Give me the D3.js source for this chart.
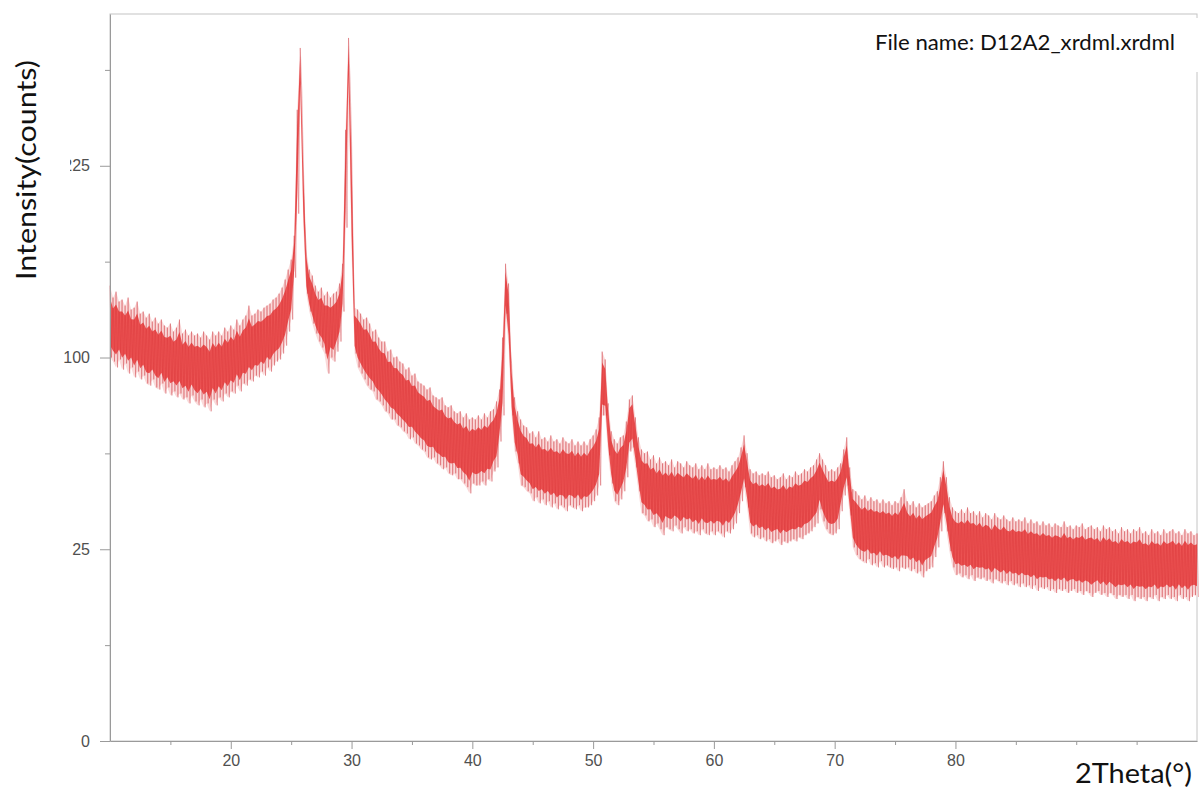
<!DOCTYPE html>
<html>
<head>
<meta charset="utf-8">
<script src="https://cdn.jsdelivr.net/npm/d3@7"></script>
<style>
  body { margin: 0; background: #fff; }
</style>
</head>
<body>
<div id="chart"></div>
<script>
/* XRD scan of sample D12A2, intensity on a square-root axis */

// scan grid: 10 to 100 deg 2theta, one reading every 0.25 deg
const scanStart = 10;
const scanStep = 0.25;

// top edge of the noisy trace at each step (counts)
const upperCounts = [
  141, 133.7, 137.3, 131.3, 132.5, 128.9, 133.7, 126.6, 127.7, 131.3,
  124.2, 125.4, 121.9, 124.2, 119.6, 121.9, 118.5, 120.8, 117.4, 116.2,
  118.5, 114.0, 116.2, 120.8, 112.9, 115.1, 111.8, 114.0, 111.8, 112.9,
  110.7, 114.0, 111.8, 109.6, 114.0, 111.8, 114.0, 111.8, 116.2, 114.0,
  117.4, 115.1, 120.8, 117.4, 120.8, 123.1, 128.9, 123.1, 124.2, 126.6,
  125.4, 127.7, 128.9, 130.1, 132.5, 133.7, 136.1, 139.8, 144.8, 151.1,
  // 25 - 30.5
  157.6, 173.6, 270.9, 326.6, 229.7, 164.2, 151.1, 147.3,
  141.0, 137.3, 139.8, 134.9, 137.3, 133.7, 136.1, 137.3,
  142.3, 154.9, 254.0, 336.1, 244.1, 127.7, 126.6,
  // 30.75 - 42
  124.2, 120.8, 121.9, 118.5, 114.0, 115.1, 110.7, 108.5, 108.5, 103.1,
  104.2, 100.0, 100.5, 97.9, 96.9, 93.8, 94.9, 90.8, 91.8, 87.9,
  86.9, 85.9, 84.0, 85.0, 81.2, 80.3, 79.3, 80.3, 76.6, 75.7,
  76.6, 73.9, 73.0, 73.9, 71.2, 73.0, 70.3, 71.2, 70.3, 72.1,
  70.3, 73.0, 71.2, 73.9, 74.8, 78.4,
  // 42.25 - 44
  84.0, 110.7, 154.9, 142.3, 96.9, 80.3, 73.9, 70.3,
  // 44.25 - 50.25
  67.7, 66.9, 64.3, 65.2, 62.7, 65.2, 61.9, 62.7, 61.0, 63.5,
  61.0, 61.9, 60.2, 62.7, 61.0, 60.2, 61.9, 59.4, 61.0, 59.4,
  61.0, 59.4, 61.9, 63.5, 66.0,
  // 50.5 - 53.75
  71.2, 103.1, 99.0, 77.5, 65.2, 61.9, 60.2, 62.7, 63.5, 69.4, 79.3, 81.2, 71.2, 62.7,
  // 54 - 61.75
  57.8, 56.3, 57.0, 53.9, 55.5, 52.4, 54.7, 52.4, 53.2, 51.7,
  53.9, 50.9, 53.2, 52.4, 50.9, 53.2, 51.7, 50.9, 52.4, 50.2,
  51.7, 50.2, 52.4, 50.2, 50.9, 50.2, 51.7, 50.2, 50.9, 49.4,
  51.7, 53.2,
  // 62 - 62.75
  54.7, 58.6, 63.5, 56.3,
  // 63 - 70.25
  50.2, 48.7, 49.4, 48.0, 48.7, 48.0, 49.4, 47.3, 48.0, 46.6,
  47.3, 48.7, 46.6, 48.0, 47.3, 49.4, 48.0, 48.7, 50.2, 49.4,
  50.9, 51.7, 53.9, 56.3, 53.9, 51.7, 49.4, 50.2, 49.4, 50.9,
  // 70.5 - 71.25
  52.4, 57.8, 62.7, 50.9,
  // 71.5 - 78.25
  43.1, 42.4, 41.0, 39.7, 41.0, 39.1, 40.4, 39.1, 39.7, 38.4,
  39.7, 38.4, 39.1, 37.8, 39.1, 38.4, 40.4, 43.1, 39.1, 37.8,
  39.1, 37.1, 38.4, 37.1, 37.8, 38.4, 39.1, 41.0,
  // 78.5 - 80
  42.4, 47.3, 53.2, 47.3, 40.4, 37.1, 35.9,
  // 80.25 - 100
  35.3, 36.5, 35.3, 37.1, 35.3, 35.9, 34.6, 35.9, 34.0, 35.3,
  34.6, 33.4, 35.3, 34.0, 33.4, 34.6, 33.4, 32.8, 34.0, 32.8,
  33.4, 32.8, 34.0, 32.2, 33.4, 32.2, 32.8, 31.6, 32.8, 31.6,
  32.2, 31.1, 32.2, 31.6, 31.1, 32.8, 31.1, 31.6, 30.5, 31.6,
  31.1, 32.2, 30.5, 31.1, 31.6, 30.5, 31.1, 29.9, 31.6, 30.5,
  31.1, 29.9, 30.5, 29.3, 31.1, 29.9, 30.5, 29.3, 30.5, 29.9,
  31.1, 29.3, 29.9, 28.8, 30.5, 29.3, 29.9, 28.8, 30.5, 29.3,
  29.9, 30.5, 29.3, 29.9, 28.8, 30.5, 29.3, 29.9, 28.8, 29.3
];

// bottom edge of the noisy trace at each step (counts)
const lowerCounts = [
  100, 97.9, 94.9, 99.0, 93.8, 96.9, 91.8, 94.9, 89.9, 92.8,
  88.9, 90.8, 86.9, 85.9, 88.9, 85.0, 84.0, 86.9, 82.1, 85.0,
  81.2, 83.1, 80.3, 82.1, 79.3, 80.3, 77.5, 81.2, 78.4, 76.6,
  79.3, 75.7, 77.5, 73.9, 79.3, 76.6, 80.3, 78.4, 82.1, 80.3,
  83.1, 82.1, 85.9, 83.1, 86.9, 85.9, 88.9, 87.9, 90.8, 89.9,
  92.8, 90.8, 94.9, 92.8, 95.9, 97.9, 99.0, 102.1, 106.3, 114.0,
  // 25 - 30.5
  120.8, 146.0, 189.1, 288.3, 182.0, 136.1, 125.4, 118.5,
  112.9, 108.5, 105.3, 102.1, 91.8, 100.0, 97.9, 103.1,
  108.5, 125.4, 179.2, 295.4, 161.5, 102.1, 94.9,
  // 30.75 - 42
  91.8, 88.9, 85.9, 84.0, 83.1, 79.3, 78.4, 76.6, 73.9, 73.0,
  70.3, 70.3, 67.7, 66.9, 65.2, 64.3, 61.9, 62.7, 60.2, 59.4,
  57.8, 57.0, 54.7, 53.9, 54.7, 52.4, 51.7, 50.2, 50.9, 48.7,
  48.0, 48.7, 46.6, 46.6, 45.1, 43.8, 41.7, 45.1, 44.4, 44.4,
  45.8, 44.4, 46.6, 45.8, 49.4, 50.9,
  // 42.25 - 44
  61.0, 72.1, 124.2, 106.3, 72.1, 57.0, 52.4, 44.4,
  // 44.25 - 50.25
  43.8, 42.4, 41.7, 39.1, 40.4, 38.4, 39.7, 37.8, 39.1, 37.1,
  38.4, 36.5, 37.8, 37.1, 35.9, 37.8, 37.1, 36.5, 37.8, 35.9,
  37.1, 37.1, 37.8, 39.1, 41.0,
  // 50.5 - 53.75
  44.4, 72.1, 72.1, 55.5, 45.1, 39.1, 37.8, 39.7, 42.4, 47.3, 57.0, 58.6, 50.9, 42.4,
  // 54 - 61.75
  35.3, 34.6, 32.8, 33.4, 31.1, 32.2, 30.5, 28.8, 31.1, 30.5,
  29.9, 31.6, 30.5, 29.3, 31.1, 29.9, 30.5, 29.3, 29.9, 28.8,
  30.5, 29.3, 28.8, 29.9, 28.8, 29.9, 29.3, 28.2, 29.9, 29.3,
  30.5, 32.2,
  // 62 - 62.75
  35.3, 39.1, 43.8, 37.1,
  // 63 - 70.25
  29.3, 28.2, 28.8, 27.7, 28.2, 27.1, 27.7, 26.6, 27.1, 27.7,
  26.1, 27.1, 26.6, 27.1, 27.7, 27.1, 28.2, 27.7, 28.8, 29.3,
  29.9, 31.1, 32.2, 36.5, 32.8, 30.5, 29.3, 28.8, 29.3, 30.5,
  // 70.5 - 71.25
  35.9, 41.0, 44.4, 34.6,
  // 71.5 - 78.25
  25.5, 23.5, 22.5, 22.0, 21.5, 22.5, 21.0, 21.5, 20.5, 22.0,
  20.5, 21.0, 20.5, 20.1, 20.5, 19.6, 20.5, 20.1, 20.5, 19.6,
  20.1, 19.1, 19.6, 18.2, 19.6, 20.1, 20.5, 23.0,
  // 78.5 - 80
  25.5, 29.9, 35.3, 29.9, 24.5, 20.5, 18.7,
  // 80.25 - 100
  19.1, 18.2, 18.7, 17.8, 18.7, 17.4, 18.2, 17.8, 18.2, 17.4,
  17.8, 16.9, 17.8, 17.4, 16.9, 17.4, 16.5, 17.4, 16.5, 16.9,
  16.1, 16.9, 16.1, 16.5, 15.7, 16.5, 15.3, 16.1, 15.7, 16.1,
  15.3, 15.7, 14.9, 15.7, 15.3, 15.7, 14.9, 15.3, 15.7, 14.9,
  15.3, 14.5, 15.3, 14.9, 14.1, 14.9, 15.3, 14.5, 14.9, 14.1,
  14.9, 14.5, 13.7, 14.5, 14.1, 14.5, 13.7, 14.5, 13.3, 14.1,
  13.7, 14.1, 13.3, 14.1, 13.7, 14.5, 13.3, 14.1, 13.7, 14.5,
  13.7, 14.1, 13.3, 14.5, 13.7, 14.1, 13.3, 14.1, 14.5, 14.1
];

const yMajorTicks = [0, 25, 100, 225];
const yMinorTicks = [6.25, 56.25, 156.25, 306.25];
const xMajorTicks = [20, 30, 40, 50, 60, 70, 80];
const xMinorTicks = [15, 25, 35, 45, 55, 65, 75, 85, 90, 95];

const fileLabel = "File name: D12A2_xrdml.xrdml";

// join the lists into one row per step
const scan = upperCounts.map((u, i) => ({
    angle: scanStart + i * scanStep,
    upper: u,
    lower: lowerCounts[i]
}));

const width = 1199,
      height = 792,
      margin = ({ top: 14, right: 2, bottom: 51, left: 110 });

let svg = d3.select("#chart")
    .append("svg")
    .attr("width", width)
    .attr("height", height)
    .style("font-family", "'Liberation Sans', Arial, sans-serif");

let x = d3.scaleLinear()
    .domain([10, 100])
    .range([margin.left, width - margin.right]);

let y = d3.scaleSqrt()
    .domain([0, 359.4])
    .range([height - margin.bottom, margin.top]);

// plot frame
svg.append("rect")
    .attr("x", margin.left)
    .attr("y", margin.top)
    .attr("width", width - margin.right - margin.left)
    .attr("height", height - margin.bottom - margin.top)
    .attr("fill", "none")
    .attr("stroke", "#c4c4c4");

// the trace: pale fringe, thin hatching for the spikes, dense core on top
let fringe = d3.area()
    .x(d => x(d.angle))
    .y0(d => y(d.lower))
    .y1(d => y(d.upper));

svg.append("path")
    .datum(scan)
    .attr("d", fringe)
    .attr("fill", "#fadada");

let zig = [];
for (let d of scan) {
    zig.push([x(d.angle), y(d.upper)]);
    zig.push([x(d.angle + scanStep / 2), y(d.lower)]);
}

svg.append("path")
    .attr("d", d3.line()(zig))
    .attr("fill", "none")
    .attr("stroke", "#d6343c")
    .attr("stroke-width", 0.6)
    .attr("opacity", 0.45);

const coreInset = 0.17; // share of the band that is only spikes
let core = d3.area()
    .x(d => x(d.angle))
    .y0(d => {
        let top = y(d.upper), bot = y(d.lower);
        return bot - coreInset * (bot - top);
    })
    .y1(d => {
        let top = y(d.upper), bot = y(d.lower);
        return top + coreInset * (bot - top);
    });

svg.append("path")
    .datum(scan)
    .attr("d", core)
    .attr("fill", "#e73a3a")
    .attr("opacity", 0.85);

// darker hairlines through the core, as in the dense part of the scan
svg.append("path")
    .attr("d", d3.line()(zig))
    .attr("fill", "none")
    .attr("stroke", "#b8262e")
    .attr("stroke-width", 0.35)
    .attr("opacity", 0.35);

// axes
function styleAxis(g) {
    g.selectAll("path, line").attr("stroke", "#9a9a9a");
    g.selectAll("text")
        .attr("fill", "#505050")
        .style("font-size", "16px")
        .style("font-family", "'Liberation Sans', Arial, sans-serif");
}

svg.append("g")
    .attr("transform", `translate(0,${height - margin.bottom})`)
    .call(d3.axisBottom(x).tickValues(xMajorTicks).tickSize(8).tickPadding(6).tickSizeOuter(0))
    .call(styleAxis);

svg.append("g")
    .attr("transform", `translate(0,${height - margin.bottom})`)
    .call(d3.axisBottom(x).tickValues(xMinorTicks).tickSize(4).tickFormat("").tickSizeOuter(0))
    .call(g => g.select(".domain").remove())
    .call(styleAxis);

svg.append("g")
    .attr("transform", `translate(${margin.left},0)`)
    .call(d3.axisLeft(y).tickValues(yMajorTicks).tickSize(10).tickPadding(10).tickSizeOuter(0))
    .call(styleAxis);

svg.append("g")
    .attr("transform", `translate(${margin.left},0)`)
    .call(d3.axisLeft(y).tickValues(yMinorTicks).tickSize(5).tickFormat("").tickSizeOuter(0))
    .call(g => g.select(".domain").remove())
    .call(styleAxis);

// pasted-on labels, each on its own white patch
svg.append("rect")
    .attr("x", 0).attr("y", 40)
    .attr("width", 70).attr("height", 260)
    .attr("fill", "#fff");

svg.append("text")
    .attr("transform", "translate(36,170) rotate(-90)")
    .attr("text-anchor", "middle")
    .attr("textLength", 220)
    .attr("lengthAdjust", "spacingAndGlyphs")
    .style("font-family", "Lato, 'Open Sans', sans-serif")
    .style("font-size", "27px")
    .attr("fill", "#111")
    .text("Intensity(counts)");

svg.append("rect")
    .attr("x", 1057).attr("y", 746)
    .attr("width", width - 1057).attr("height", height - 746)
    .attr("fill", "#fff");

svg.append("text")
    .attr("x", 1075)
    .attr("y", 783)
    .attr("textLength", 117)
    .attr("lengthAdjust", "spacingAndGlyphs")
    .style("font-family", "Lato, 'Open Sans', sans-serif")
    .style("font-size", "26px")
    .attr("fill", "#111")
    .text("2Theta(°)");

svg.append("rect")
    .attr("x", 862).attr("y", 18)
    .attr("width", width - 862).attr("height", 54)
    .attr("fill", "#fff");

svg.append("text")
    .attr("x", 875)
    .attr("y", 50)
    .attr("textLength", 300)
    .attr("lengthAdjust", "spacingAndGlyphs")
    .style("font-family", "Lato, 'Open Sans', sans-serif")
    .style("font-size", "21px")
    .attr("fill", "#111")
    .text(fileLabel);
</script>
</body>
</html>
